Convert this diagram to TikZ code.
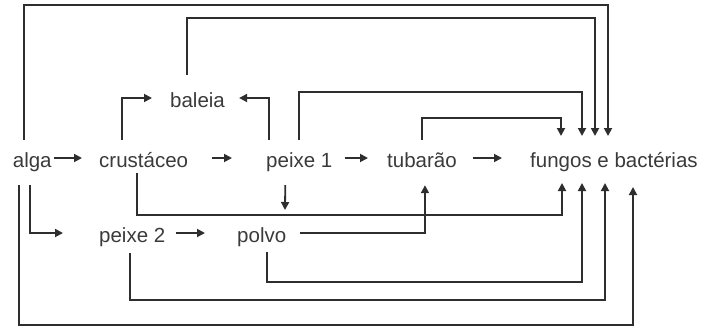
\documentclass[tikz,border=0pt]{standalone}
\usepackage{fontspec}
\setmainfont{Liberation Sans}
\usetikzlibrary{arrows.meta,calc}
\definecolor{ink}{HTML}{2E2E2E}
\definecolor{txt}{HTML}{3A3A3A}
\begin{document}
\begin{tikzpicture}[x=1pt,y=-1pt,
  lbl/.style={anchor=base west,inner sep=0pt,text height=18pt,text depth=0pt,
    text=txt,font=\fontsize{20.5}{24}\selectfont},
  ln/.style={draw=ink,line width=1.8pt},
  arr/.style={ln,-{Triangle[length=8pt,width=8pt]}}]
\useasboundingbox (0,0) rectangle (703,327);
% nodes
\node[lbl] (alga)   at (12.7,167) {alga};
\node[lbl] (crust)  at (99,167)   {crustáceo};
\node[lbl] (peixeA) at (266,167)  {peixe 1};
\node[lbl] (tub)    at (387,167)  {tubarão};
\node[lbl] (fung)   at (530,167)  {fungos e bactérias};
\node[lbl] (baleia) at (170,107)  {baleia};
\node[lbl] (peixeB) at (99,242)   {peixe 2};
\node[lbl] (polvo)  at (237,242)  {polvo};
% arrow tip points at fungos e bactérias
\coordinate (t1) at (561,136);
\coordinate (t2) at (582,136);
\coordinate (t3) at (595,136);
\coordinate (t4) at (608,136);
\coordinate (b1) at (562,183);
\coordinate (b2) at (582,183);
\coordinate (b3) at (605,183);
\coordinate (b4) at (633,187);
\coordinate (pd) at (285,210);
% main row
\draw[arr,shorten <=2pt,shorten >=17pt] (alga.east) -- (crust.west);
\draw[arr,shorten <=24pt,shorten >=34pt] (crust.east) -- (peixeA.west);
\draw[arr,shorten <=12pt,shorten >=19pt] (peixeA.east) -- (tub.west);
\draw[arr,shorten <=16.5pt,shorten >=28pt] (tub.east) -- (fung.west);
% second row
\draw[arr,shorten <=10pt,shorten >=32pt] (peixeB.east) -- (polvo.west);
\draw[arr] ([xshift=-2pt,yshift=-18pt]alga.south) |- ([xshift=-36pt]peixeB.west);
% baleia
\draw[arr] ([xshift=-21.5pt,yshift=9pt]crust.north) |- ([xshift=-18pt]baleia.west);
\draw[arr] ([xshift=-30pt,yshift=9pt]peixeA.north) |- ([xshift=14pt]baleia.east);
% top connectors
\draw[arr] ([xshift=-8pt,yshift=9pt]alga.north) -- ++(0,-135) -| (t4);
\draw[arr] ([xshift=-10.4pt,yshift=14pt]baleia.north) -- ++(0,-57) -| (t3);
\draw[arr] ([yshift=9pt]peixeA.north) -- ++(0,-48) -| (t2);
\draw[arr] ([yshift=9pt]tub.north) -- ++(0,-22) -| (t1);
% lower connectors
\draw[arr] ([xshift=-14pt,yshift=-18pt]peixeA.south) -- (pd);
\draw[arr] ([xshift=-6.5pt,yshift=-6pt]crust.south) -- ++(0,42) -| (b1);
\draw[arr] ([xshift=14pt]polvo.east) -| ([xshift=3pt,yshift=-18pt]tub.south);
\draw[arr] ([xshift=5.5pt,yshift=-10pt]polvo.south) -- ++(0,30) -| (b2);
\draw[arr] ([xshift=-2pt,yshift=-11pt]peixeB.south) -- ++(0,47) -| (b3);
\draw[arr] ([xshift=-13pt,yshift=-18pt]alga.south) -- ++(0,140) -| (b4);
\end{tikzpicture}
\end{document}
